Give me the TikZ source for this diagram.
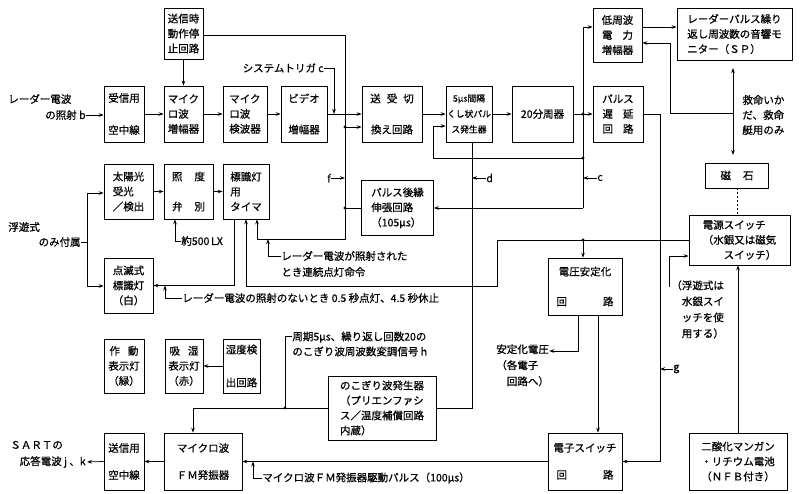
\documentclass[tikz,border=0pt]{standalone}
\usepackage{fontspec}
\setmainfont{Noto Sans CJK JP}[FakeBold=0.6]
\usetikzlibrary{arrows.meta}
\newcommand\myfs{\fontsize{10.5}{15}\selectfont}
\newcommand\mysmall{\fontsize{8.8}{15.5}\selectfont}
\begin{document}
\begin{tikzpicture}[x=1pt,y=-1pt,font=\myfs,line width=0.75pt,
 bx/.style={draw,inner sep=0pt,align=center},
 bxl/.style={draw,inner sep=0pt,align=left},
 arr/.style={-{Stealth[length=5pt,width=3.6pt]}},
 arrb/.style={{Stealth[length=5pt,width=3.6pt]}-{Stealth[length=5pt,width=3.6pt]}},
 lbl/.style={inner sep=0pt,align=left}]
\fill[white] (0,0) rectangle (800,493);
\useasboundingbox (0,0) rectangle (800,493);
% boxes
\node[bx,minimum width=39pt,minimum height=51pt] (stop) at (183.5,33.5) {送信時\\動作停\\止回路};
\node[bx,minimum width=40pt,minimum height=56pt] (rxant) at (124,114) {受信用\\[17pt]空中線};
\node[bxl,minimum width=39pt,minimum height=56pt] (mamp) at (183.5,114) {マイク\\ロ波\\増幅器};
\node[bxl,minimum width=44pt,minimum height=56pt] (mdet) at (245,114) {マイク\\ロ波\\検波器};
\node[bx,minimum width=46pt,minimum height=56pt] (video) at (304,114) {ビデオ\\[16pt]増幅器};
\node[bx,minimum width=60pt,minimum height=56pt] (trsw) at (392,114) {送\hspace{6pt}受\hspace{6pt}切\\[16pt]換え回路};
\node[bx,minimum width=46pt,minimum height=56pt,font=\mysmall] (comb) at (469,114) {5μs間隔\\くし状パル\\ス発生器};
\node[bx,minimum width=61pt,minimum height=56pt] (div) at (542.5,114) {20分周器};
\node[bx,minimum width=50pt,minimum height=56pt] (delay) at (618,114) {パルス\\遅\hspace{10pt}延\\回\hspace{10pt}路};
\node[bx,minimum width=49pt,minimum height=54pt] (lfamp) at (617.5,35) {低周波\\電\hspace{10pt}力\\増幅器};
\node[bxl,minimum width=115pt,minimum height=52pt] (sp) at (734.5,34) {レーダーパルス繰り\\返し周波数の音響モ\\ニター（ＳＰ）};
\node[bx,minimum width=63pt,minimum height=25pt] (magnet) at (737,175.5) {磁\hspace{12pt}石};
\node[bxl,minimum width=101pt,minimum height=50pt] (psw) at (739.5,240) {電源スイッチ\\（水銀又は磁気\\　　スイッチ）};
\node[bxl,minimum width=49pt,minimum height=55pt] (solar) at (128.5,191.5) {太陽光\\受光\\／検出};
\node[bx,minimum width=49pt,minimum height=55pt] (lux) at (188.5,191.5) {照\hspace{12pt}度\\[15pt]弁\hspace{12pt}別};
\node[bxl,minimum width=46pt,minimum height=55pt] (timer) at (246,191.5) {標識灯\\用\\タイマ};
\node[bxl,minimum width=72pt,minimum height=55pt] (pext) at (397.5,208) {パルス後縁\\伸張回路\\（105μs）};
\node[bx,minimum width=49pt,minimum height=55pt] (flash) at (128.5,285.5) {点滅式\\標識灯\\（白）};
\node[bx,minimum width=74pt,minimum height=57pt] (vreg) at (585,286.5) {電圧安定化\\[15pt]回\hspace{36pt}路};
\node[bx,minimum width=40pt,minimum height=54pt] (op) at (124,366) {作\hspace{8pt}動\\表示灯\\（緑）};
\node[bx,minimum width=38pt,minimum height=54pt] (hum) at (184,366) {吸\hspace{8pt}湿\\表示灯\\（赤）};
\node[bx,minimum width=37pt,minimum height=54pt] (hdet) at (241.5,366) {湿度検\\[18pt]出回路};
\node[bxl,minimum width=108pt,minimum height=64pt] (saw) at (382,408) {のこぎり波発生器\\（プリエンファシ\\ス／温度補償回路\\内蔵）};
\node[bx,minimum width=74pt,minimum height=57pt] (esw) at (585,461.5) {電子スイッチ\\[12pt]回\hspace{36pt}路};
\node[bx,minimum width=98pt,minimum height=57pt] (batt) at (738,461.5) {二酸化マンガン\\・リチウム電池\\（ＮＦＢ付き）};
\node[bx,minimum width=40pt,minimum height=57pt] (txant) at (124,461.5) {送信用\\[12pt]空中線};
\node[bx,minimum width=78pt,minimum height=57pt] (fm) at (203,461.5) {マイクロ波\\[12pt]ＦＭ発振器};
% main receive chain
\node[lbl,anchor=west] (inb1) at (8,99) {レーダー電波};
\node[lbl,anchor=east] (inb) at (86,115) {の照射 b};
\draw[arr] (inb.east) -- (rxant.west |- inb.east);
\draw[arr] (stop.south) -- (mamp.north);
\draw[arr] (rxant.east) -- (mamp.west);
\draw[arr] (mamp.east) -- (mdet.west);
\draw[arr] (mdet.east) -- (video.west);
\draw[arr] (video.east) -- (trsw.west);
\draw[arr] (trsw.east) -- (comb.west);
\draw[arr] (comb.east) -- (div.west);
\draw[arr] (div.east) -- (delay.west);
% system trigger
\node[lbl,anchor=east] (strg) at (324,68) {システムトリガ c};
\coordinate (st) at (334,114);
\draw[arr] (strg.east) -| (st);
% f line
\coordinate (f1) at (345,35);
\coordinate (f2) at (345,127);
\coordinate (f3) at (345,178);
\coordinate (f4) at (345,208);
\coordinate (f5) at (345,239);
\coordinate (f6) at (257,239);
\draw (stop.east |- f1) -- (f1) -- (f5) -- (f6);
\draw[arr] (f6) -- (timer.south -| f6);
\draw[arr] (f2) -- (trsw.west |- f2);
\draw (f4) -- (pext.west);
\fill (f2) circle (1.7pt);
\fill (f4) circle (1.7pt);
\node[lbl,anchor=east] (flab) at (331,178) {f};
\draw[arr] (flab.east) -- (f3);
% loop from divider
\coordinate (l0) at (583,27);
\coordinate (l1) at (583,114);
\coordinate (l2) at (583,158);
\coordinate (l3) at (433,158);
\coordinate (l4) at (433,126);
\coordinate (l5) at (583,208);
\coordinate (lc) at (583,178);
\draw (l0) -- (l5);
\draw[arr] (l0) -- (lfamp.west |- l0);
\draw[arr] (l2) -- (l3) -- (l4) -- (comb.west |- l4);
\draw[arr] (l5) -- (pext.east |- l5);
\fill (l1) circle (1.7pt);
\fill (l2) circle (1.7pt);
\node[lbl,anchor=west] (clab) at (597,178) {c};
\draw[arr] (clab.west) -- (lc);
% d line
\coordinate (d1) at (472,408);
\coordinate (dd) at (472,178);
\draw (comb.south -| d1) -- (d1) -- (saw.east |- d1);
\node[lbl,anchor=west] (dlab) at (486,178) {d};
\draw[arr] (dlab.west) -- (dd);
% sawtooth to FM
\coordinate (h1) at (193,408);
\coordinate (h2) at (285,408);
\coordinate (h3) at (285,336);
\draw[arr] (saw.west) -- (h1) -- (fm.north -| h1);
\fill (h2) circle (1.7pt);
\node[lbl,anchor=west] (hlab) at (292,344) {周期5μs、繰り返し回数20の\\のこぎり波周波数変調信号 h};
\draw (h2) -- (h3) -- (hlab.west |- h3);
% g line
\coordinate (g1) at (660,114);
\coordinate (gg) at (660,369);
\draw[arr] (delay.east) -- (g1) -- (g1 |- esw.east) -- (esw.east);
\node[lbl,anchor=west] (glab) at (673,369) {g};
\draw[arr] (glab.west) -- (gg);
% LF amp, SP
\draw[arr] (lfamp.east |- l0) -- (sp.west |- l0);
\coordinate (r1) at (733,113);
\coordinate (r2) at (670,113);
\coordinate (r3) at (670,43);
\draw[arr] (r1) -- (r2) -- (r3) -- (lfamp.east |- r3);
\coordinate (da1) at (733,68);
\coordinate (da2) at (733,155);
\draw[arrb] (da1) -- (da2);
\node[lbl,anchor=west] (lifel) at (742,115) {救命いか\\だ、救命\\艇用のみ};
\draw[dashed,dash pattern=on 2pt off 2pt] (magnet.south) -- (psw.north -| magnet.south);
% power
\coordinate (p1) at (497,240);
\coordinate (p2) at (497,286);
\coordinate (p3) at (246,286);
\coordinate (pv) at (583,240);
\draw[arr] (psw.west) -- (p1) -- (p2) -- (p3) -- (timer.south -| p3);
\fill (pv) circle (1.7pt);
\draw[arr] (pv) -- (vreg.north -| pv);
\coordinate (q1) at (669,256);
\coordinate (q2) at (669,287);
\draw[arr] (q2) -- (q1) -- (psw.west |- q1);
\node[lbl,anchor=north west,font=\fontsize{10.5}{16}\selectfont] (qlab) at (671,280) {（浮遊式は\\　水銀スイ\\　ッチを使\\　用する）};
\draw[arr] (batt.north) -- (psw.south -| batt.north);
% voltage regulator
\coordinate (v1) at (578,351);
\coordinate (xv) at (598,0);
\node[lbl,anchor=north west,font=\fontsize{10.5}{16}\selectfont] (vout) at (496,344) {安定化電圧\\（各電子\\　回路へ）};
\draw[arr] (vreg.south -| v1) -- (v1) -- (vout.east |- v1);
\draw[arr] (vreg.south -| xv) -- (esw.north -| xv);
% electronic switch to FM
\draw[arr] (esw.west) -- (fm.east);
\coordinate (dp1) at (253,461.5);
\coordinate (dp2) at (253,478);
\node[lbl,anchor=west] (dpl) at (262,478) {マイクロ波ＦＭ発振器駆動パルス（100μs）};
\draw[arr] (dpl.west) -- (dp2) -- (dp1);
\draw[arr] (fm.west) -- (txant.east);
\node[lbl,anchor=west] (sart1) at (10,445) {ＳＡＲＴの};
\node[lbl,anchor=east] (sart2) at (86,462) {応答電波 j 、k};
\draw[arr,shorten >=1pt] (txant.west) -- (sart2.east);
\draw[arr] (hdet.west) -- (hum.east);
% floating-type only
\node[lbl,anchor=west] (fl1) at (8,227) {浮遊式};
\node[lbl,anchor=east] (fl2) at (81,242) {のみ付属};
\coordinate (s1) at (87,193);
\coordinate (s2) at (87,286);
\coordinate (s3) at (87,242);
\draw (fl2.east) -- (s3);
\draw (s1) -- (s2);
\draw[arr] (s1) -- (solar.west |- s1);
\draw[arr] (s2) -- (flash.west |- s2);
\draw[arr] (solar.east) -- (lux.west);
\draw[arr] (lux.east) -- (timer.west);
\coordinate (x1) at (175,241);
\node[lbl,anchor=west] (lxl) at (181,241) {約500\,LX};
\draw[arr] (lxl.west) -- (x1) -- (lux.south -| x1);
\coordinate (t1) at (234,285.5);
\coordinate (t2) at (165,285.5);
\coordinate (t3) at (165,298);
\draw[arr] (timer.south -| t1) -- (t1) -- (flash.east |- t1);
\node[lbl,anchor=west] (nl) at (182,298) {レーダー電波の照射のないとき 0.5 秒点灯、4.5 秒休止};
\draw[arr] (nl.west) -- (t3) -- (t2);
\coordinate (u1) at (268,239);
\coordinate (u2) at (268,256);
\node[lbl,anchor=west,font=\fontsize{10.5}{16}\selectfont] (ul) at (281,264) {レーダー電波が照射された\\とき連続点灯命令};
\draw[arr] (ul.west |- u2) -- (u2) -- (u1);
\end{tikzpicture}
\end{document}
